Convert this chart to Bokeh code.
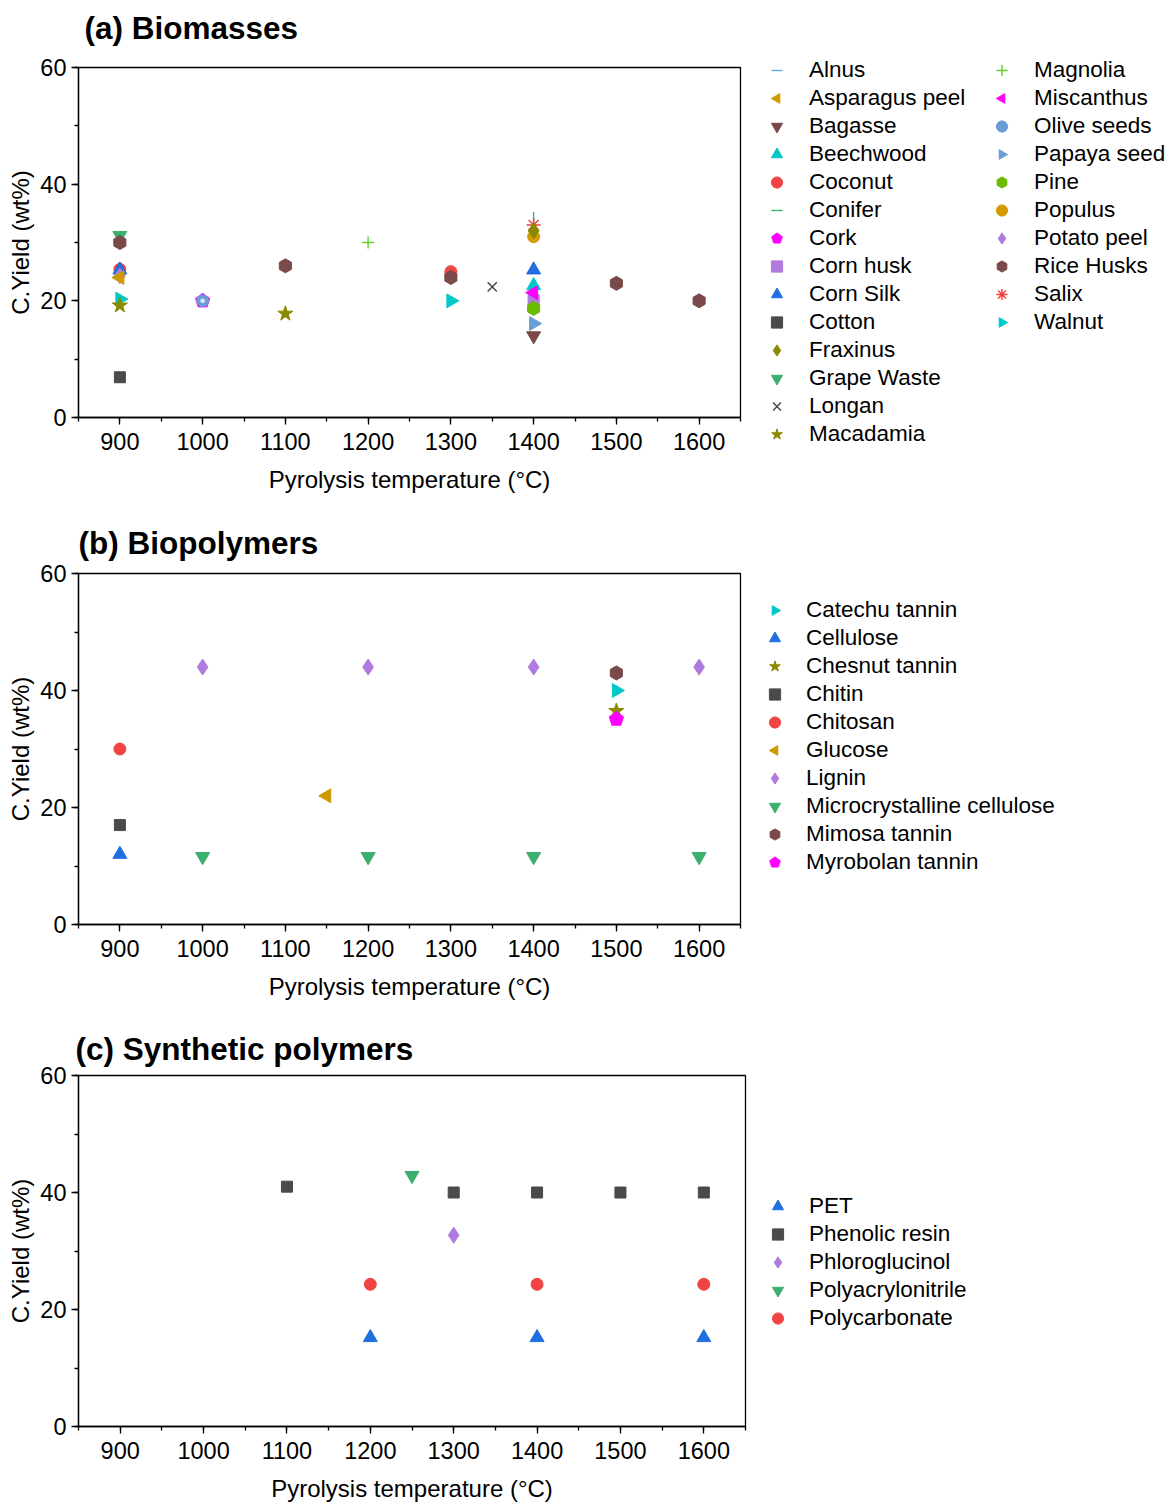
import math
from bokeh.plotting import figure
from bokeh.layouts import column
from bokeh.models import Legend, LegendItem, SingleIntervalTicker, LinearAxis, FixedTicker
from bokeh.embed import file_html
from bokeh.resources import INLINE

FONT = "Liberation Sans"

# ---------------- data: (a) Biomasses ----------------
a_labels = ["Alnus", "Asparagus peel", "Bagasse", "Beechwood", "Coconut", "Conifer",
            "Cork", "Corn husk", "Corn Silk", "Cotton", "Fraxinus", "Grape Waste",
            "Longan", "Macadamia", "Magnolia", "Miscanthus", "Olive seeds", "Papaya seed",
            "Pine", "Populus", "Potato peel", "Rice Husks", "Salix", "Walnut"]
a_temps = [[1400], [900], [1400], [1400], [900, 1300], [1400],
           [1000], [1400], [900, 1400], [900], [1400], [900],
           [1350], [900, 1100], [1200], [1400], [1000], [1400],
           [1400], [1400], [900], [900, 1100, 1300, 1500, 1600], [1400], [900, 1300]]
a_yields = [[20], [24], [14], [22.6], [25.4, 25], [34.2],
            [20], [20.1], [25.3, 25.3], [6.9], [32], [31.2],
            [22.4], [19.2, 17.8], [30], [21.4], [20], [16.1],
            [18.7], [31], [24.3], [30, 26, 24, 23, 20], [33], [20.3, 20]]
a_draw_order = ["Alnus", "Conifer", "Salix", "Populus", "Fraxinus", "Coconut", "Corn Silk",
                "Potato peel", "Asparagus peel", "Grape Waste", "Rice Husks", "Walnut",
                "Macadamia", "Cork", "Olive seeds", "Beechwood", "Corn husk", "Miscanthus",
                "Pine", "Papaya seed", "Bagasse", "Longan", "Magnolia", "Cotton"]

# ---------------- data: (b) Biopolymers ----------------
b_labels = ["Catechu tannin", "Cellulose", "Chesnut tannin", "Chitin", "Chitosan", "Glucose",
            "Lignin", "Microcrystalline cellulose", "Mimosa tannin", "Myrobolan tannin"]
b_temps = [[1500], [900], [1500], [900], [900], [1150],
           [1000, 1200, 1400, 1600], [1000, 1200, 1400, 1600], [1500], [1500]]
b_yields = [[40], [12], [36.5], [17], [30], [22],
            [44, 44, 44, 44], [11.6, 11.6, 11.6, 11.6], [43], [35.1]]

# ---------------- data: (c) Synthetic polymers ----------------
c_labels = ["PET", "Phenolic resin", "Phloroglucinol", "Polyacrylonitrile", "Polycarbonate"]
c_temps = [[1200, 1400, 1600], [1100, 1300, 1400, 1500, 1600], [1300], [1250], [1200, 1400, 1600]]
c_yields = [[15.2, 15.2, 15.2], [41, 40, 40, 40, 40], [32.7], [42.9], [24.3, 24.3, 24.3]]

# ---------------- styles ----------------
PI = math.pi
LEFT = (3, PI / 2, 8)
RIGHT = (3, -PI / 2, 8)
PENT = (5, 0.0, 7.5)
HEX = (6, 0.0, 7)
# name -> (kind, colour, marker-or-ngon spec, size)
STYLE = {
    "Alnus": ("line", "#6ca6e8", "dash", 12),
    "Asparagus peel": ("ngon", "#cc9900", LEFT),
    "Bagasse": ("fill", "#7a4a4a", "inverted_triangle", 14),
    "Beechwood": ("fill", "#00c8c8", "triangle", 14),
    "Coconut": ("fill", "#f04444", "circle", 12),
    "Conifer": ("vline", "#3aaf6e", "dash", 12),
    "Cork": ("ngon", "#ff00ff", PENT),
    "Corn husk": ("fill", "#b07ade", "square", 11),
    "Corn Silk": ("fill", "#1f6fe0", "triangle", 14),
    "Cotton": ("fill", "#4a4a4a", "square", 11),
    "Fraxinus": ("fill", "#8a8a00", "diamond", 16),
    "Grape Waste": ("fill", "#3aaf6e", "inverted_triangle", 14),
    "Longan": ("line", "#444444", "x", 13),
    "Macadamia": ("fill", "#8a8a00", "star", 16),
    "Magnolia": ("line", "#66cc33", "cross", 12),
    "Miscanthus": ("ngon", "#ff00ff", LEFT),
    "Olive seeds": ("ball", "#6a9cd8", "circle", 12),
    "Papaya seed": ("ngon", "#6a9cd6", RIGHT),
    "Pine": ("ngon", "#6cbb00", HEX),
    "Populus": ("fill", "#d49a00", "circle", 12),
    "Potato peel": ("fill", "#b07ade", "diamond", 16),
    "Rice Husks": ("ngon", "#7a4a4a", HEX),
    "Salix": ("line", "#f03c3c", "asterisk", 14),
    "Walnut": ("ngon", "#00c8c8", RIGHT),
    "Catechu tannin": ("ngon", "#00c8c8", RIGHT),
    "Cellulose": ("fill", "#1f6fe0", "triangle", 14),
    "Chesnut tannin": ("fill", "#8a8a00", "star", 16),
    "Chitin": ("fill", "#4a4a4a", "square", 11),
    "Chitosan": ("fill", "#f04444", "circle", 12),
    "Glucose": ("ngon", "#cc9900", LEFT),
    "Lignin": ("fill", "#b07ade", "diamond", 16),
    "Microcrystalline cellulose": ("fill", "#3aaf6e", "inverted_triangle", 14),
    "Mimosa tannin": ("ngon", "#7a4a4a", HEX),
    "Myrobolan tannin": ("ngon", "#ff00ff", PENT),
    "PET": ("fill", "#1f6fe0", "triangle", 14),
    "Phenolic resin": ("fill", "#4a4a4a", "square", 11),
    "Phloroglucinol": ("fill", "#b07ade", "diamond", 16),
    "Polyacrylonitrile": ("fill", "#3aaf6e", "inverted_triangle", 14),
    "Polycarbonate": ("fill", "#f04444", "circle", 12),
}


def draw(p, name, xs, ys):
    """Draw one series; returns the renderers to show in the legend."""
    st = STYLE[name]
    kind, color = st[0], st[1]
    if kind == "ngon":
        n, angle, radius = st[2]
        try:
            r = p.ngon(x=xs, y=ys, radius=radius, radius_units="screen", n=n, angle=angle,
                       fill_color=color, line_color=color, line_width=1)
        except Exception:
            r = p.scatter(xs, ys, marker="hex", size=2 * radius, fill_color=color, line_color=color)
        return [r]
    if kind == "ball":
        base = p.scatter(xs, ys, marker="circle", size=st[3], fill_color=color, line_color=color)
        p.scatter(xs, ys, marker="circle", size=st[3] * 0.4, fill_color="#d6e6f8", line_color=None)
        return [base]
    if kind == "line":
        return [p.scatter(xs, ys, marker=st[2], size=st[3],
                          line_color=color, line_width=1.4, fill_color=None)]
    if kind == "vline":
        return [p.scatter(xs, ys, marker=st[2], size=st[3], angle=PI / 2,
                          line_color=color, line_width=1.4, fill_color=None)]
    return [p.scatter(xs, ys, marker=st[2], size=st[3],
                      fill_color=color, line_color=color, line_width=1)]


def make_fig(title, title_offset, title_standoff, frame_w, frame_h, top, bottom, right, spacer=0):
    p = figure(frame_width=frame_w, frame_height=frame_h, x_range=(850, 1650), y_range=(0, 60),
               output_backend="svg", toolbar_location=None,
               min_border_left=78, min_border_right=right,
               min_border_top=top, min_border_bottom=bottom)
    if spacer:
        sp = LinearAxis(ticker=FixedTicker(ticks=[1000]), major_label_overrides={1000: ""},
                        axis_line_color=None, major_tick_line_color=None,
                        minor_tick_line_color=None, major_tick_out=spacer, major_tick_in=0,
                        minor_tick_out=0, minor_tick_in=0, major_label_standoff=0,
                        major_label_text_font_size="1px")
        p.add_layout(sp, "above")
    p.title.text = title
    p.title.text_font = FONT
    p.title.text_font_size = "31.5px"
    p.title.text_font_style = "bold"
    p.title.text_color = "black"
    p.title.align = "left"
    p.title.offset = title_offset
    p.title.standoff = title_standoff
    p.xgrid.visible = False
    p.ygrid.visible = False
    p.outline_line_color = "black"
    p.outline_line_width = 1.3
    p.outline_line_alpha = 1
    xax = p.below[0]
    yax = p.left[0]
    xax.ticker = SingleIntervalTicker(interval=100, num_minor_ticks=2)
    yax.ticker = SingleIntervalTicker(interval=20, num_minor_ticks=2)
    for ax in (xax, yax):
        ax.axis_line_color = "black"
        ax.axis_line_width = 1.3
        ax.major_tick_line_color = "black"
        ax.minor_tick_line_color = "black"
        ax.major_tick_line_width = 1.3
        ax.minor_tick_line_width = 1.3
        ax.major_tick_out = 7
        ax.major_tick_in = 0
        ax.minor_tick_out = 4
        ax.minor_tick_in = 0
        ax.major_label_text_font = FONT
        ax.major_label_text_font_size = "23.5px"
        ax.major_label_text_color = "black"
        ax.axis_label_text_font = FONT
        ax.axis_label_text_font_size = "24px"
        ax.axis_label_text_font_style = "normal"
        ax.axis_label_text_color = "black"
    xax.major_label_standoff = 8
    yax.major_label_standoff = 5
    xax.axis_label = "Pyrolysis temperature (°C)"
    yax.axis_label = "C.Yield (wt%)"
    xax.axis_label_standoff = 13
    yax.axis_label_standoff = 3
    return p


def make_legend(items, x, y, standoff, label_width=20, nrows="auto"):
    return Legend(items=items, location=(x, y), orientation="vertical", nrows=nrows,
                  padding=0, margin=0, spacing=0,
                  label_text_font=FONT, label_text_font_size="22.5px",
                  label_text_color="black", label_height=28, glyph_height=28, glyph_width=33,
                  label_width=label_width, label_standoff=standoff,
                  border_line_color=None, background_fill_alpha=0)


# ---------------- (a) ----------------
pa = make_fig("(a) Biomasses", 6, 0, 662, 350, 67, 88, 429, spacer=22)
ra = {}
for name in a_draw_order:
    i = a_labels.index(name)
    ra[name] = draw(pa, name, a_temps[i], a_yields[i])
items_a = [LegendItem(label=n, renderers=ra[n]) for n in a_labels]
pa.add_layout(make_legend(items_a, 20, -31, 16, label_width=176, nrows=14), "right")

# ---------------- (b) ----------------
pb = make_fig("(b) Biopolymers", 0, 25, 662, 351, 68, 84, 429)
items_b = [LegendItem(label=n, renderers=draw(pb, n, b_temps[i], b_yields[i]))
           for i, n in enumerate(b_labels)]
pb.add_layout(make_legend(items_b, 18, 48, 15), "right")

# ---------------- (c) ----------------
pc = make_fig("(c) Synthetic polymers", -3, 17, 667, 351, 67, 74, 424)
items_c = [LegendItem(label=n, renderers=draw(pc, n, c_temps[i], c_yields[i]))
           for i, n in enumerate(c_labels)]
pc.add_layout(make_legend(items_c, 16, 94, 15), "right")

layout = column(pa, pb, pc, spacing=0)
open("out.html", "w").write(file_html(layout, INLINE))
